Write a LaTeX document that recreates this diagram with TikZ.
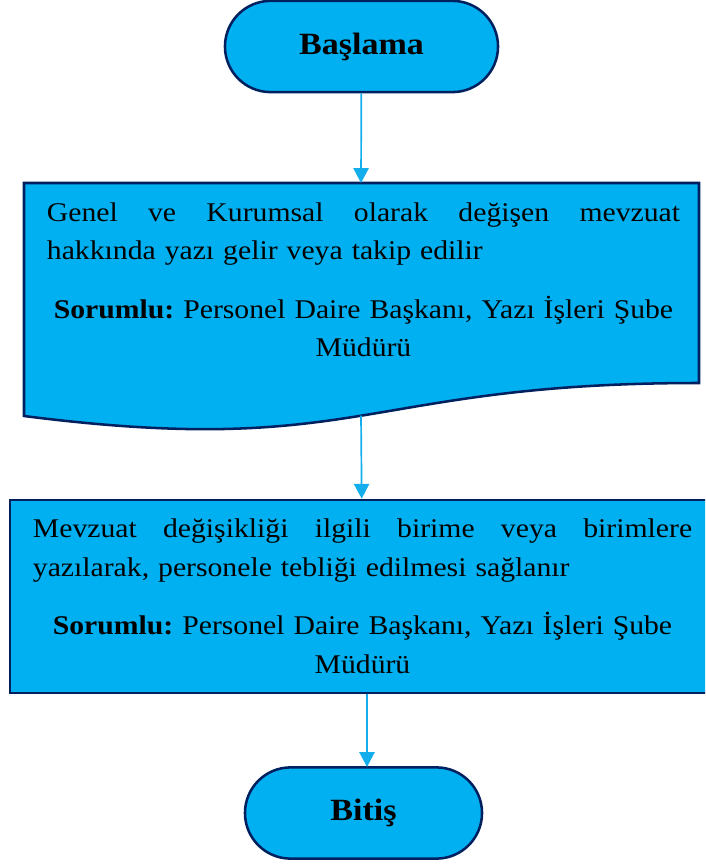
\documentclass[tikz,border=0pt]{standalone}
\usepackage{fontspec}
\setmainfont{Liberation Serif}[FakeStretch=1.1]
\usetikzlibrary{arrows.meta}
\frenchspacing

\definecolor{boxfill}{HTML}{00B0F0}
\definecolor{boxline}{HTML}{002060}
\definecolor{arrowcol}{HTML}{14AEEC}

\tikzset{
  terminal/.style={draw=boxline, fill=boxfill, line width=1.8pt, rounded corners=1.14cm,
    minimum height=2.28cm, font=\fontsize{22}{26}\selectfont\bfseries},
  process/.style={draw=boxline, fill=boxfill, line width=1.8pt, minimum width=17.625cm,
    minimum height=4.825cm, text width=16.475cm, align=left, font=\fontsize{19.2}{27.5}\selectfont},
  bodytext/.style={inner sep=0pt, align=left, font=\fontsize{19.2}{27.5}\selectfont},
  flow/.style={draw=arrowcol, line width=1.2pt, -{Triangle[width=0.38cm,length=0.37cm]}}
}

\begin{document}
\begin{tikzpicture}[x=0.025cm, y=-0.025cm]
\useasboundingbox (0,0) rectangle (705,865);
\clip (0,0) rectangle (705,865);

% Start terminal
\node[terminal, minimum width=6.825cm] (basla) at (361.5,46.5) {Başlama};

% Document shape: flat top, wavy bottom
\coordinate (doctop) at (361,183);
\coordinate (docwave) at (361,415.6);
\filldraw[draw=boxline, fill=boxfill, line width=1.8pt] (24,183) -- (699,183) -- (699,383)
  .. controls (361.5,383) and (361.5,459) .. (24,416) -- cycle;
\node[bodytext, text width=15.825cm, anchor=north] (genel) at (363.5,202) {%
  \hbox to 15.825cm{Genel\hfill ve\hfill Kurumsal\hfill olarak\hfill değişen\hfill mevzuat}
  hakkında yazı gelir veya takip edilir\par
  \vspace{14pt}
  {\centering\textbf{Sorumlu:} Personel Daire Başkanı, Yazı İşleri Şube\\Müdürü\par}};

% Process box (right edge runs off the page)
\node[process] (mevzuat) at (362.5,596.5) {%
  \hbox to 16.475cm{Mevzuat\hfill değişikliği\hfill ilgili\hfill birime\hfill veya\hfill birimlere}
  yazılarak, personele tebliği edilmesi sağlanır\par
  \vspace{14pt}
  {\centering\textbf{Sorumlu:} Personel Daire Başkanı, Yazı İşleri Şube\\Müdürü\par}};

% End terminal
\node[terminal, minimum width=5.925cm] (bitis) at (363.5,813) {Bitiş};
\coordinate (bitisin) at (367,767);

% Connectors
\draw[flow] (basla) -- (doctop);
\draw[flow] (docwave) -- (mevzuat);
\draw[flow] (mevzuat.south -| bitisin) -- (bitisin);
\end{tikzpicture}
\end{document}
